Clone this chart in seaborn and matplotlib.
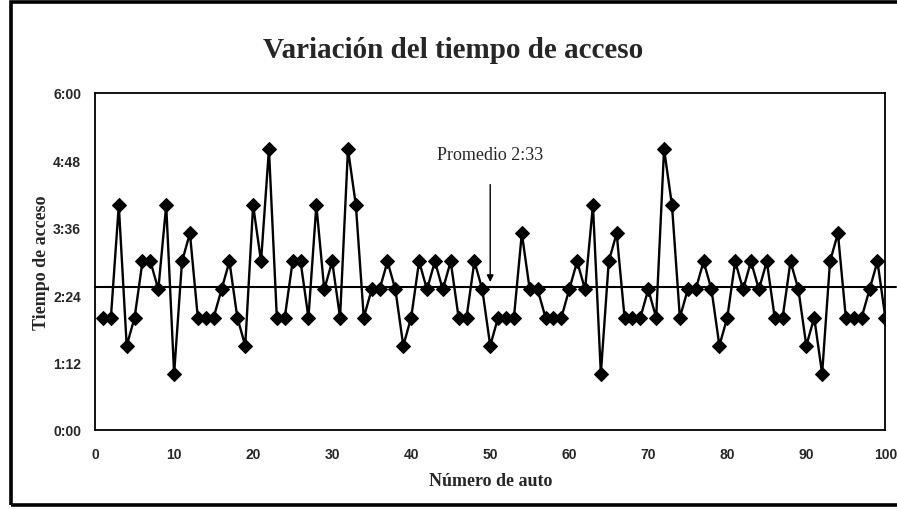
import numpy as np
import pandas as pd
import matplotlib
matplotlib.use("Agg")
import matplotlib.pyplot as plt
import seaborn as sns
from matplotlib.ticker import FuncFormatter
from matplotlib.patches import Rectangle

# tiempo de acceso por auto, en segundos
auto = list(range(1, 101))
tiempo = [120, 120, 240, 90, 120, 180, 180, 150, 240, 60,
          180, 210, 120, 120, 120, 150, 180, 120, 90, 240,
          180, 300, 120, 120, 180, 180, 120, 240, 150, 180,
          120, 300, 240, 120, 150, 150, 180, 150, 90, 120,
          180, 150, 180, 150, 180, 120, 120, 180, 150, 90,
          120, 120, 120, 210, 150, 150, 120, 120, 120, 150,
          180, 150, 240, 60, 180, 210, 120, 120, 120, 150,
          120, 300, 240, 120, 150, 150, 180, 150, 90, 120,
          180, 150, 180, 150, 180, 120, 120, 180, 150, 90,
          120, 60, 180, 210, 120, 120, 120, 150, 180, 120]
promedio = 153  # 2:33
yticks = [0, 72, 144, 216, 288, 360]
xticks = list(range(0, 101, 10))

df = pd.DataFrame({'auto': auto, 'tiempo': tiempo})

sns.set_style('white')
serif = ['Liberation Serif', 'DejaVu Serif']
sans = ['Liberation Sans', 'DejaVu Sans']

fig = plt.figure(figsize=(8.97, 5.10), dpi=100)
ax = fig.add_axes([0.106, 0.155, 0.881, 0.661])

sns.lineplot(data=df, x='auto', y='tiempo', color='black', linewidth=1.7,
             marker='D', markersize=7.5, markeredgecolor='black', ax=ax)

# linea de promedio
ax.plot([0, 101.4], [promedio, promedio], color='black', linewidth=1.5, clip_on=False)
ax.annotate('', xy=(50, promedio + 2), xytext=(50, 265),
            arrowprops=dict(arrowstyle='-|>', color='black', lw=1.0, mutation_scale=10))
ax.text(50, 294, 'Promedio 2:33', ha='center', va='center', fontsize=13, family=serif)

ax.set_xlim(0, 100)
ax.set_ylim(0, 360)
ax.set_xticks(xticks)
ax.set_yticks(yticks)
ax.yaxis.set_major_formatter(FuncFormatter(lambda v, p: f"{int(v) // 60}:{int(v) % 60:02d}"))
for lab in ax.get_xticklabels() + ax.get_yticklabels():
    lab.set_family(sans)
    lab.set_fontsize(10)
    lab.set_fontweight('bold')
ax.tick_params(axis='x', direction='inout', length=6, width=1, pad=9)
ax.tick_params(axis='y', direction='out', length=4, width=1, pad=6)

for s in ax.spines.values():
    s.set_color('black')
    s.set_linewidth(1.3)

ax.set_xlabel('Número de auto', fontsize=13, fontweight='bold', family=serif, labelpad=8)
ax.set_ylabel('Tiempo de acceso', fontsize=13, fontweight='bold', family=serif, labelpad=0)
ax.yaxis.set_label_coords(-0.057, 0.5)
fig.text(0.505, 0.9, 'Variación del tiempo de acceso', ha='center', va='center',
         fontsize=21, fontweight='bold', family=serif)

# marco exterior
fig.patches.append(Rectangle((0.012, 0.008), 1.05, 0.986, transform=fig.transFigure,
                             fill=False, edgecolor='black', linewidth=2.6))

fig.savefig('out.png', dpi=100)
